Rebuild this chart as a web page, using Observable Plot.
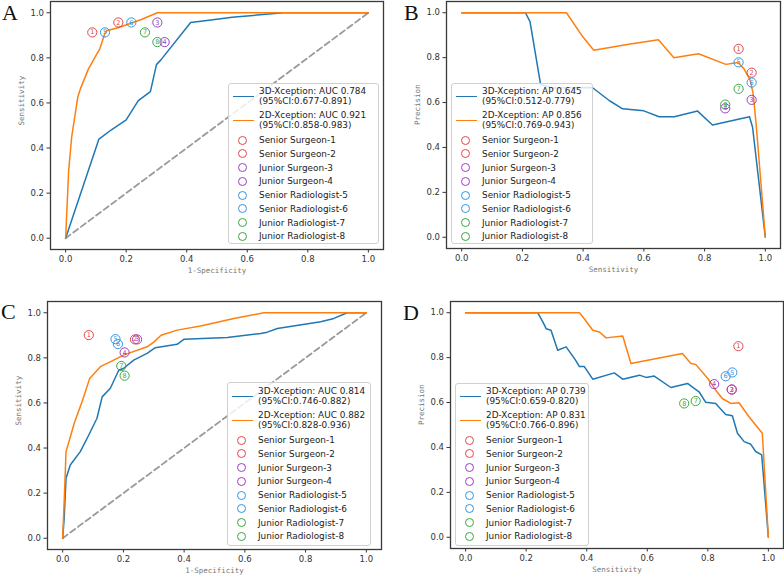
<!DOCTYPE html>
<html><head><meta charset="utf-8">
<script src="https://cdn.jsdelivr.net/npm/d3@7"></script>
<script src="https://cdn.jsdelivr.net/npm/@observablehq/plot@0.6"></script>
<style>
body{margin:0;background:#fff;}
#fig{position:relative;width:784px;height:576px;overflow:hidden;background:#fff;font-family:"DejaVu Sans",sans-serif;}
.panel{position:absolute;width:392px;height:288px;}
.letter{position:absolute;font-family:"Liberation Serif","DejaVu Serif",serif;font-size:22px;line-height:22px;color:#111;}
.legend{position:absolute;background:rgba(255,255,255,0.82);border:1px solid #d0d0d0;border-radius:3px;box-sizing:border-box;}
.lt{position:absolute;font-size:8.9px;line-height:10px;color:#222;white-space:nowrap;}
.ls{position:absolute;height:0;border-top:1.8px solid;}
.lc{position:absolute;width:9px;height:9px;border:1px solid;border-radius:50%;box-sizing:border-box;}
</style></head><body><div id="fig"></div><script>
// ---------- data ----------
const tickValues = [0, 0.2, 0.4, 0.6, 0.8, 1.0];
const diagonal = [[0, 0], [1, 1]];

const readerNames = ["Senior Surgeon-1","Senior Surgeon-2","Junior Surgeon-3","Junior Surgeon-4","Senior Radiologist-5","Senior Radiologist-6","Junior Radiologist-7","Junior Radiologist-8"];
const readerColors = ["#e2474b","#e2474b","#9b3ec2","#9b3ec2","#3196e6","#3196e6","#3aa842","#3aa842"];
const modelColors = ["#1f77b4", "#ff7f0e"];

// Panel A: ROC (1-Specificity, Sensitivity)
const rocA3D = [[0,0],[0.11,0.44],[0.15,0.48],[0.2,0.525],[0.24,0.61],[0.28,0.65],[0.3,0.77],[0.314,0.79],[0.413,0.957],[0.48,0.968],[0.55,0.98],[0.72,1],[1,1]];
const rocA2D = [[0,0],[0.01,0.3],[0.02,0.45],[0.04,0.625],[0.05,0.667],[0.075,0.75],[0.1,0.81],[0.113,0.84],[0.13,0.91],[0.135,0.92],[0.176,0.935],[0.25,0.97],[0.303,1],[1,1]];
const readersA = [[0.088,0.913],[0.174,0.957],[0.303,0.957],[0.327,0.87],[0.13,0.913],[0.217,0.957],[0.262,0.913],[0.303,0.87]];
const legendA = ["3D-Xception: AUC 0.784","(95%CI:0.677-0.891)","2D-Xception: AUC 0.921","(95%CI:0.858-0.983)"];

// Panel B: PR (Sensitivity, Precision)
const prB3D = [[0,1],[0.21,1],[0.225,0.96],[0.26,0.68],[0.3,0.665],[0.43,0.667],[0.487,0.608],[0.53,0.572],[0.6,0.563],[0.65,0.537],[0.7,0.537],[0.777,0.562],[0.826,0.5],[0.948,0.537],[0.958,0.49],[1,0]];
const prB2D = [[0,1],[0.345,1],[0.395,0.9],[0.435,0.833],[0.55,0.86],[0.648,0.88],[0.699,0.8],[0.78,0.817],[0.87,0.77],[0.91,0.778],[0.93,0.75],[0.95,0.7],[0.96,0.64],[0.97,0.5],[1,0]];
const readersB = [[0.912,0.839],[0.955,0.733],[0.955,0.612],[0.868,0.574],[0.912,0.779],[0.955,0.689],[0.912,0.661],[0.868,0.591]];
const legendB = ["3D-Xception: AP 0.645","(95%CI:0.512-0.779)","2D-Xception: AP 0.856","(95%CI:0.769-0.943)"];

// Panel C: ROC
const rocC3D = [[0,0],[0.005,0.09],[0.011,0.266],[0.025,0.325],[0.058,0.384],[0.086,0.458],[0.113,0.532],[0.13,0.627],[0.157,0.665],[0.185,0.746],[0.2,0.753],[0.234,0.79],[0.278,0.82],[0.305,0.845],[0.377,0.86],[0.4,0.883],[0.542,0.89],[0.652,0.908],[0.674,0.914],[0.707,0.93],[0.85,0.96],[0.893,0.975],[0.937,1],[1,1]];
const rocC2D = [[0,0],[0.006,0.2],[0.011,0.384],[0.027,0.458],[0.038,0.51],[0.064,0.606],[0.089,0.709],[0.124,0.761],[0.168,0.79],[0.2,0.812],[0.278,0.849],[0.3,0.87],[0.324,0.9],[0.377,0.923],[0.454,0.941],[0.564,0.975],[0.663,1],[1,1]];
const readersC = [[0.086,0.901],[0.238,0.882],[0.245,0.882],[0.204,0.824],[0.174,0.883],[0.182,0.861],[0.193,0.764],[0.204,0.721]];
const legendC = ["3D-Xception: AUC 0.814","(95%CI:0.746-0.882)","2D-Xception: AUC 0.882","(95%CI:0.828-0.936)"];

// Panel D: PR
const prD3D = [[0,1],[0.238,1],[0.255,0.959],[0.266,0.929],[0.282,0.922],[0.304,0.833],[0.332,0.848],[0.363,0.789],[0.376,0.76],[0.392,0.76],[0.42,0.704],[0.491,0.732],[0.519,0.704],[0.574,0.722],[0.596,0.712],[0.623,0.718],[0.678,0.667],[0.733,0.685],[0.755,0.663],[0.771,0.648],[0.793,0.601],[0.826,0.596],[0.859,0.547],[0.881,0.541],[0.898,0.463],[0.92,0.426],[0.942,0.414],[0.958,0.382],[0.978,0.367],[1,0]];
const prD2D = [[0,1],[0.376,1],[0.392,0.973],[0.42,0.922],[0.442,0.914],[0.464,0.888],[0.519,0.896],[0.546,0.774],[0.716,0.818],[0.744,0.774],[0.76,0.77],[0.8,0.707],[0.826,0.655],[0.848,0.618],[0.876,0.596],[0.903,0.599],[0.936,0.537],[0.958,0.5],[0.98,0.463],[1,0]];
const readersD = [[0.901,0.851],[0.879,0.658],[0.879,0.658],[0.821,0.682],[0.881,0.734],[0.859,0.717],[0.76,0.607],[0.722,0.596]];
const legendD = ["3D-Xception: AP 0.739","(95%CI:0.659-0.820)","2D-Xception: AP 0.831","(95%CI:0.766-0.896)"];

// ---------- layout ----------
const panels = [
  {id:"A", left:0, top:0, m:[1,9,39,50], xLabel:"1-Specificity", yLabel:"Sensitivity", diag:true, m3:rocA3D, m2:rocA2D, readers:readersA, legend:legendA,
   lg:{x:228,y:83,w:151,h:161,t0:8}, letter:{x:2,y:2}},
  {id:"B", left:392, top:0, m:[1,4,40,54], xLabel:"Sensitivity", yLabel:"Precision", diag:false, m3:prB3D, m2:prB2D, readers:readersB, legend:legendB,
   lg:{x:451,y:83,w:142,h:161,t0:8}, letter:{x:404,y:2}},
  {id:"C", left:0, top:288, m:[13,11,27,47], xLabel:"1-Specificity", yLabel:"Sensitivity", diag:true, m3:rocC3D, m2:rocC2D, readers:readersC, legend:legendC,
   lg:{x:227,y:382,w:144,h:164,t0:9}, letter:{x:1,y:301}},
  {id:"D", left:392, top:288, m:[13,1,28,58], xLabel:"Sensitivity", yLabel:"Precision", diag:false, m3:prD3D, m2:prD2D, readers:readersD, legend:legendD,
   lg:{x:455,y:383,w:134,h:163,t0:8}, letter:{x:403,y:302}}
];

const fig = document.getElementById("fig");
const fmt = d3.format(".1f");

for (const p of panels) {
  const readers = p.readers.map((d, i) => ({x: d[0], y: d[1], c: readerColors[i], n: String(i + 1)}));
  const marks = [
    Plot.frame({stroke: "#3a3a3a", strokeWidth: 1.3}),
    p.diag ? Plot.line(diagonal, {x: d => d[0], y: d => d[1], stroke: "#9a9a9a", strokeWidth: 1.8, strokeDasharray: "6,3.5"}) : null,
    Plot.line(p.m3, {x: d => d[0], y: d => d[1], stroke: modelColors[0], strokeWidth: 1.5}),
    Plot.line(p.m2, {x: d => d[0], y: d => d[1], stroke: modelColors[1], strokeWidth: 1.5}),
    Plot.dot(readers, {x: "x", y: "y", r: 4.6, stroke: "c", fill: "none", strokeWidth: 1}),
    Plot.text(readers, {x: "x", y: "y", text: "n", fill: "c", fontSize: 6.5}),
    Plot.text([p.xLabel], {text: d => d, frameAnchor: "bottom", dy: 23, fontFamily: "DejaVu Sans Mono", fontSize: 7.5, fill: "#777"}),
    Plot.text([p.yLabel], {text: d => d, frameAnchor: "left", dx: -29, rotate: -90, fontFamily: "DejaVu Sans Mono", fontSize: 7.5, fill: "#777"})
  ].filter(Boolean);

  const chart = Plot.plot({
    width: 392, height: 288,
    marginTop: p.m[0], marginRight: p.m[1], marginBottom: p.m[2], marginLeft: p.m[3],
    x: {domain: [-0.05, 1.05], ticks: tickValues, tickFormat: fmt, tickSize: 3.5, tickPadding: 3, label: null},
    y: {domain: [-0.05, 1.05], ticks: tickValues, tickFormat: fmt, tickSize: 3.5, tickPadding: 3, label: null},
    color: {type: "identity"},
    style: {fontFamily: "DejaVu Sans", fontSize: "8.5px", color: "#333", background: "white", overflow: "visible"},
    marks
  });
  const div = document.createElement("div");
  div.className = "panel";
  div.style.left = p.left + "px";
  div.style.top = p.top + "px";
  div.appendChild(chart);
  fig.appendChild(div);
}

// legends (HTML overlay)
for (const p of panels) {
  const g = p.lg;
  const box = document.createElement("div");
  box.className = "legend";
  Object.assign(box.style, {left: g.x + "px", top: g.y + "px", width: g.w + "px", height: g.h + "px"});
  const add = (cls, css, text) => {
    const e = document.createElement("div");
    e.className = cls;
    Object.assign(e.style, css);
    if (text) e.textContent = text;
    box.appendChild(e);
  };
  const textX = 30, lineX0 = 4, lineX1 = 25, circX = 14;
  // model entries
  for (let k = 0; k < 2; k++) {
    const y1 = g.t0 + k * 24;
    add("lt", {left: textX + "px", top: (y1 - 5 - 1) + "px"}, p.legend[2 * k]);
    add("lt", {left: textX + "px", top: (y1 + 10 - 5 - 1) + "px"}, p.legend[2 * k + 1]);
    add("ls", {left: lineX0 + "px", width: (lineX1 - lineX0) + "px", top: (y1 + 5 - 1) + "px", borderColor: modelColors[k]});
  }
  // readers
  for (let i = 0; i < readerNames.length; i++) {
    const yc = g.t0 + 49 + i * 13.75;
    add("lc", {left: (circX - 4.5 - 1) + "px", top: (yc - 4.5 - 1) + "px", borderColor: readerColors[i]});
    add("lt", {left: textX + "px", top: (yc - 5 - 1) + "px"}, readerNames[i]);
  }
  fig.appendChild(box);
}

// panel letters
for (const p of panels) {
  const l = document.createElement("div");
  l.className = "letter";
  l.style.left = p.letter.x + "px";
  l.style.top = p.letter.y + "px";
  l.textContent = p.id;
  fig.appendChild(l);
}
</script></body></html>
